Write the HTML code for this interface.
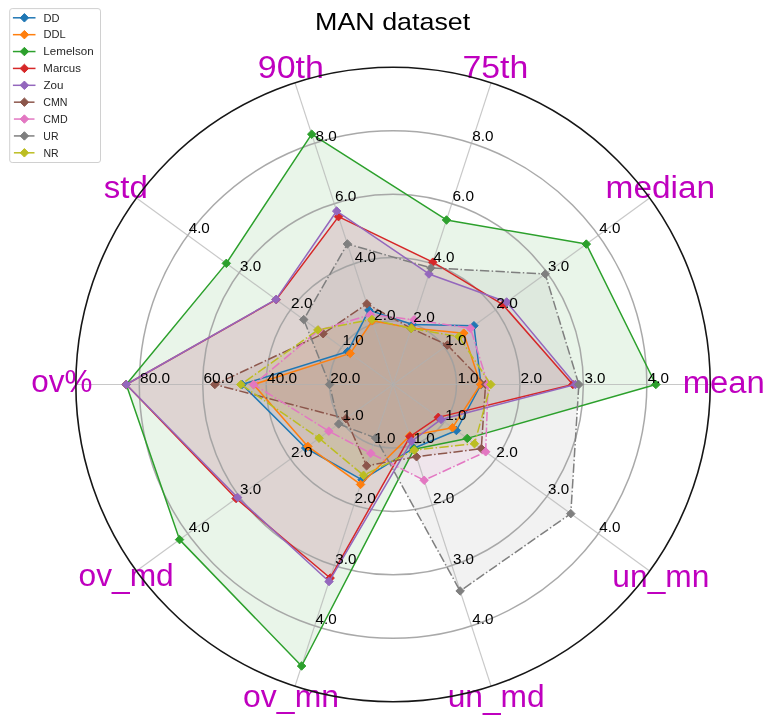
<!DOCTYPE html><html><head><meta charset="utf-8"><style>html,body{margin:0;padding:0;background:#fff}svg{display:block;will-change:transform}</style></head><body><svg width="771" height="720" viewBox="0 0 771 720">
<rect width="771" height="720" fill="#fff"/>
<polygon points="481.05,384.5 473.95,325.72 412.52,324.58 368.88,310.13 347.75,351.58 242.05,384.5 305.68,447.98 362.09,479.8 413.75,448.22 456.4,430.52" fill="#1f77b4" fill-opacity="0.1" stroke="none"/>
<polygon points="480.55,384.5 463.76,333.13 411.44,327.91 372.35,320.78 350.25,353.41 253.55,384.5 307.86,446.39 360.57,484.46 409.74,435.86 452.51,427.7" fill="#ff7f0e" fill-opacity="0.1" stroke="none"/>
<polygon points="655.85,384.5 586.32,244.08 446.51,219.97 311.72,134.18 226.31,263.36 126.25,384.5 179.55,539.62 301.58,666.01 414.06,449.17 467.24,438.4" fill="#2ca02c" fill-opacity="0.1" stroke="none"/>
<polygon points="572.85,384.5 502.91,304.68 432.79,262.19 338.51,216.64 276.23,299.62 126.25,384.5 236.1,498.53 330.17,578.04 409.98,436.62 438.27,417.36" fill="#d62728" fill-opacity="0.1" stroke="none"/>
<polygon points="575.35,384.5 506.64,301.97 428.96,273.99 336.69,211.03 275.99,299.45 126.25,384.5 237.56,497.47 329.02,581.56 411.5,441.28 441.11,419.41" fill="#9467bd" fill-opacity="0.1" stroke="none"/>
<polygon points="485.55,384.5 447.34,345.06 411.28,328.39 366.85,303.85 323.15,333.72 214.85,384.5 345.97,418.71 366.63,465.82 416.54,456.78 481.31,448.63" fill="#8c564b" fill-opacity="0.1" stroke="none"/>
<polygon points="488.05,384.5 470.47,328.25 414.09,319.73 370.34,314.6 318.62,330.42 253.55,384.5 328.81,431.17 370.71,453.26 424.17,480.27 485.68,451.8" fill="#e377c2" fill-opacity="0.1" stroke="none"/>
<polygon points="578.85,384.5 545.23,273.94 430.94,267.9 347.38,243.93 303.73,319.61 329.55,384.5 338.68,424 375.65,438.04 460.14,590.97 570.79,513.64" fill="#7f7f7f" fill-opacity="0.1" stroke="none"/>
<polygon points="490.85,384.5 458.9,336.65 411.28,328.39 371.91,319.45 317.89,329.89 240.85,384.5 319.11,438.22 363.54,475.33 414.37,450.12 474.52,443.69" fill="#bcbd22" fill-opacity="0.1" stroke="none"/>
<circle cx="393.05" cy="384.5" r="63.44" fill="none" stroke="#a0a0a0" stroke-width="1.5" stroke-opacity="0.9"/>
<circle cx="393.05" cy="384.5" r="126.88" fill="none" stroke="#a0a0a0" stroke-width="1.5" stroke-opacity="0.9"/>
<circle cx="393.05" cy="384.5" r="190.32" fill="none" stroke="#a0a0a0" stroke-width="1.5" stroke-opacity="0.9"/>
<circle cx="393.05" cy="384.5" r="253.76" fill="none" stroke="#a0a0a0" stroke-width="1.5" stroke-opacity="0.9"/>
<line x1="393.05" y1="384.5" x2="710.25" y2="384.5" stroke="#b0b0b0" stroke-width="1.2" stroke-opacity="0.7"/>
<line x1="393.05" y1="384.5" x2="649.67" y2="198.05" stroke="#b0b0b0" stroke-width="1.2" stroke-opacity="0.7"/>
<line x1="393.05" y1="384.5" x2="491.07" y2="82.82" stroke="#b0b0b0" stroke-width="1.2" stroke-opacity="0.7"/>
<line x1="393.05" y1="384.5" x2="295.03" y2="82.82" stroke="#b0b0b0" stroke-width="1.2" stroke-opacity="0.7"/>
<line x1="393.05" y1="384.5" x2="136.43" y2="198.05" stroke="#b0b0b0" stroke-width="1.2" stroke-opacity="0.7"/>
<line x1="393.05" y1="384.5" x2="75.85" y2="384.5" stroke="#b0b0b0" stroke-width="1.2" stroke-opacity="0.7"/>
<line x1="393.05" y1="384.5" x2="136.43" y2="570.95" stroke="#b0b0b0" stroke-width="1.2" stroke-opacity="0.7"/>
<line x1="393.05" y1="384.5" x2="295.03" y2="686.18" stroke="#b0b0b0" stroke-width="1.2" stroke-opacity="0.7"/>
<line x1="393.05" y1="384.5" x2="491.07" y2="686.18" stroke="#b0b0b0" stroke-width="1.2" stroke-opacity="0.7"/>
<line x1="393.05" y1="384.5" x2="649.67" y2="570.95" stroke="#b0b0b0" stroke-width="1.2" stroke-opacity="0.7"/>
<path d="M481.05,384.5 L473.95,325.72 L412.52,324.58 L368.88,310.13 L347.75,351.58 L242.05,384.5 L305.68,447.98 L362.09,479.8 L413.75,448.22 L456.4,430.52 L481.05,384.5" fill="none" stroke="#1f77b4" stroke-width="1.5" stroke-linejoin="round"/>
<path d="M481.05,380.26 L485.29,384.5 L481.05,388.74 L476.81,384.5Z" fill="#1f77b4" stroke="#1f77b4" stroke-width="1.0"/>
<path d="M473.95,321.48 L478.19,325.72 L473.95,329.96 L469.71,325.72Z" fill="#1f77b4" stroke="#1f77b4" stroke-width="1.0"/>
<path d="M412.52,320.34 L416.76,324.58 L412.52,328.82 L408.28,324.58Z" fill="#1f77b4" stroke="#1f77b4" stroke-width="1.0"/>
<path d="M368.88,305.89 L373.12,310.13 L368.88,314.37 L364.64,310.13Z" fill="#1f77b4" stroke="#1f77b4" stroke-width="1.0"/>
<path d="M347.75,347.34 L351.99,351.58 L347.75,355.82 L343.51,351.58Z" fill="#1f77b4" stroke="#1f77b4" stroke-width="1.0"/>
<path d="M242.05,380.26 L246.29,384.5 L242.05,388.74 L237.81,384.5Z" fill="#1f77b4" stroke="#1f77b4" stroke-width="1.0"/>
<path d="M305.68,443.74 L309.92,447.98 L305.68,452.22 L301.44,447.98Z" fill="#1f77b4" stroke="#1f77b4" stroke-width="1.0"/>
<path d="M362.09,475.56 L366.33,479.8 L362.09,484.04 L357.85,479.8Z" fill="#1f77b4" stroke="#1f77b4" stroke-width="1.0"/>
<path d="M413.75,443.98 L417.99,448.22 L413.75,452.46 L409.51,448.22Z" fill="#1f77b4" stroke="#1f77b4" stroke-width="1.0"/>
<path d="M456.4,426.28 L460.64,430.52 L456.4,434.76 L452.16,430.52Z" fill="#1f77b4" stroke="#1f77b4" stroke-width="1.0"/>
<path d="M480.55,384.5 L463.76,333.13 L411.44,327.91 L372.35,320.78 L350.25,353.41 L253.55,384.5 L307.86,446.39 L360.57,484.46 L409.74,435.86 L452.51,427.7 L480.55,384.5" fill="none" stroke="#ff7f0e" stroke-width="1.5" stroke-linejoin="round"/>
<path d="M480.55,380.26 L484.79,384.5 L480.55,388.74 L476.31,384.5Z" fill="#ff7f0e" stroke="#ff7f0e" stroke-width="1.0"/>
<path d="M463.76,328.89 L468,333.13 L463.76,337.37 L459.52,333.13Z" fill="#ff7f0e" stroke="#ff7f0e" stroke-width="1.0"/>
<path d="M411.44,323.67 L415.68,327.91 L411.44,332.15 L407.2,327.91Z" fill="#ff7f0e" stroke="#ff7f0e" stroke-width="1.0"/>
<path d="M372.35,316.54 L376.59,320.78 L372.35,325.02 L368.11,320.78Z" fill="#ff7f0e" stroke="#ff7f0e" stroke-width="1.0"/>
<path d="M350.25,349.17 L354.49,353.41 L350.25,357.65 L346.01,353.41Z" fill="#ff7f0e" stroke="#ff7f0e" stroke-width="1.0"/>
<path d="M253.55,380.26 L257.79,384.5 L253.55,388.74 L249.31,384.5Z" fill="#ff7f0e" stroke="#ff7f0e" stroke-width="1.0"/>
<path d="M307.86,442.15 L312.1,446.39 L307.86,450.63 L303.62,446.39Z" fill="#ff7f0e" stroke="#ff7f0e" stroke-width="1.0"/>
<path d="M360.57,480.22 L364.81,484.46 L360.57,488.7 L356.33,484.46Z" fill="#ff7f0e" stroke="#ff7f0e" stroke-width="1.0"/>
<path d="M409.74,431.62 L413.98,435.86 L409.74,440.1 L405.5,435.86Z" fill="#ff7f0e" stroke="#ff7f0e" stroke-width="1.0"/>
<path d="M452.51,423.46 L456.75,427.7 L452.51,431.94 L448.27,427.7Z" fill="#ff7f0e" stroke="#ff7f0e" stroke-width="1.0"/>
<path d="M655.85,384.5 L586.32,244.08 L446.51,219.97 L311.72,134.18 L226.31,263.36 L126.25,384.5 L179.55,539.62 L301.58,666.01 L414.06,449.17 L467.24,438.4 L655.85,384.5" fill="none" stroke="#2ca02c" stroke-width="1.5" stroke-linejoin="round"/>
<path d="M655.85,380.26 L660.09,384.5 L655.85,388.74 L651.61,384.5Z" fill="#2ca02c" stroke="#2ca02c" stroke-width="1.0"/>
<path d="M586.32,239.84 L590.56,244.08 L586.32,248.32 L582.08,244.08Z" fill="#2ca02c" stroke="#2ca02c" stroke-width="1.0"/>
<path d="M446.51,215.73 L450.75,219.97 L446.51,224.21 L442.27,219.97Z" fill="#2ca02c" stroke="#2ca02c" stroke-width="1.0"/>
<path d="M311.72,129.94 L315.96,134.18 L311.72,138.42 L307.48,134.18Z" fill="#2ca02c" stroke="#2ca02c" stroke-width="1.0"/>
<path d="M226.31,259.12 L230.55,263.36 L226.31,267.6 L222.07,263.36Z" fill="#2ca02c" stroke="#2ca02c" stroke-width="1.0"/>
<path d="M126.25,380.26 L130.49,384.5 L126.25,388.74 L122.01,384.5Z" fill="#2ca02c" stroke="#2ca02c" stroke-width="1.0"/>
<path d="M179.55,535.38 L183.79,539.62 L179.55,543.86 L175.31,539.62Z" fill="#2ca02c" stroke="#2ca02c" stroke-width="1.0"/>
<path d="M301.58,661.77 L305.82,666.01 L301.58,670.25 L297.34,666.01Z" fill="#2ca02c" stroke="#2ca02c" stroke-width="1.0"/>
<path d="M414.06,444.93 L418.3,449.17 L414.06,453.41 L409.82,449.17Z" fill="#2ca02c" stroke="#2ca02c" stroke-width="1.0"/>
<path d="M467.24,434.16 L471.48,438.4 L467.24,442.64 L463,438.4Z" fill="#2ca02c" stroke="#2ca02c" stroke-width="1.0"/>
<path d="M572.85,384.5 L502.91,304.68 L432.79,262.19 L338.51,216.64 L276.23,299.62 L126.25,384.5 L236.1,498.53 L330.17,578.04 L409.98,436.62 L438.27,417.36 L572.85,384.5" fill="none" stroke="#d62728" stroke-width="1.5" stroke-linejoin="round"/>
<path d="M572.85,380.26 L577.09,384.5 L572.85,388.74 L568.61,384.5Z" fill="#d62728" stroke="#d62728" stroke-width="1.0"/>
<path d="M502.91,300.44 L507.15,304.68 L502.91,308.92 L498.67,304.68Z" fill="#d62728" stroke="#d62728" stroke-width="1.0"/>
<path d="M432.79,257.95 L437.03,262.19 L432.79,266.43 L428.55,262.19Z" fill="#d62728" stroke="#d62728" stroke-width="1.0"/>
<path d="M338.51,212.4 L342.75,216.64 L338.51,220.88 L334.27,216.64Z" fill="#d62728" stroke="#d62728" stroke-width="1.0"/>
<path d="M276.23,295.38 L280.47,299.62 L276.23,303.86 L271.99,299.62Z" fill="#d62728" stroke="#d62728" stroke-width="1.0"/>
<path d="M126.25,380.26 L130.49,384.5 L126.25,388.74 L122.01,384.5Z" fill="#d62728" stroke="#d62728" stroke-width="1.0"/>
<path d="M236.1,494.29 L240.34,498.53 L236.1,502.77 L231.86,498.53Z" fill="#d62728" stroke="#d62728" stroke-width="1.0"/>
<path d="M330.17,573.8 L334.41,578.04 L330.17,582.28 L325.93,578.04Z" fill="#d62728" stroke="#d62728" stroke-width="1.0"/>
<path d="M409.98,432.38 L414.22,436.62 L409.98,440.86 L405.74,436.62Z" fill="#d62728" stroke="#d62728" stroke-width="1.0"/>
<path d="M438.27,413.12 L442.51,417.36 L438.27,421.6 L434.03,417.36Z" fill="#d62728" stroke="#d62728" stroke-width="1.0"/>
<path d="M575.35,384.5 L506.64,301.97 L428.96,273.99 L336.69,211.03 L275.99,299.45 L126.25,384.5 L237.56,497.47 L329.02,581.56 L411.5,441.28 L441.11,419.41 L575.35,384.5" fill="none" stroke="#9467bd" stroke-width="1.5" stroke-linejoin="round"/>
<path d="M575.35,380.26 L579.59,384.5 L575.35,388.74 L571.11,384.5Z" fill="#9467bd" stroke="#9467bd" stroke-width="1.0"/>
<path d="M506.64,297.73 L510.88,301.97 L506.64,306.21 L502.4,301.97Z" fill="#9467bd" stroke="#9467bd" stroke-width="1.0"/>
<path d="M428.96,269.75 L433.2,273.99 L428.96,278.23 L424.72,273.99Z" fill="#9467bd" stroke="#9467bd" stroke-width="1.0"/>
<path d="M336.69,206.79 L340.93,211.03 L336.69,215.27 L332.45,211.03Z" fill="#9467bd" stroke="#9467bd" stroke-width="1.0"/>
<path d="M275.99,295.21 L280.23,299.45 L275.99,303.69 L271.75,299.45Z" fill="#9467bd" stroke="#9467bd" stroke-width="1.0"/>
<path d="M126.25,380.26 L130.49,384.5 L126.25,388.74 L122.01,384.5Z" fill="#9467bd" stroke="#9467bd" stroke-width="1.0"/>
<path d="M237.56,493.23 L241.8,497.47 L237.56,501.71 L233.32,497.47Z" fill="#9467bd" stroke="#9467bd" stroke-width="1.0"/>
<path d="M329.02,577.32 L333.26,581.56 L329.02,585.8 L324.78,581.56Z" fill="#9467bd" stroke="#9467bd" stroke-width="1.0"/>
<path d="M411.5,437.04 L415.74,441.28 L411.5,445.52 L407.26,441.28Z" fill="#9467bd" stroke="#9467bd" stroke-width="1.0"/>
<path d="M441.11,415.17 L445.35,419.41 L441.11,423.65 L436.87,419.41Z" fill="#9467bd" stroke="#9467bd" stroke-width="1.0"/>
<path d="M485.55,384.5 L447.34,345.06 L411.28,328.39 L366.85,303.85 L323.15,333.72 L214.85,384.5 L345.97,418.71 L366.63,465.82 L416.54,456.78 L481.31,448.63 L485.55,384.5" fill="none" stroke="#8c564b" stroke-width="1.5" stroke-dasharray="9.4 2.35 1.5 2.35" stroke-linejoin="round"/>
<path d="M485.55,380.26 L489.79,384.5 L485.55,388.74 L481.31,384.5Z" fill="#8c564b" stroke="#8c564b" stroke-width="1.0"/>
<path d="M447.34,340.82 L451.58,345.06 L447.34,349.3 L443.1,345.06Z" fill="#8c564b" stroke="#8c564b" stroke-width="1.0"/>
<path d="M411.28,324.15 L415.52,328.39 L411.28,332.63 L407.04,328.39Z" fill="#8c564b" stroke="#8c564b" stroke-width="1.0"/>
<path d="M366.85,299.61 L371.09,303.85 L366.85,308.09 L362.61,303.85Z" fill="#8c564b" stroke="#8c564b" stroke-width="1.0"/>
<path d="M323.15,329.48 L327.39,333.72 L323.15,337.96 L318.91,333.72Z" fill="#8c564b" stroke="#8c564b" stroke-width="1.0"/>
<path d="M214.85,380.26 L219.09,384.5 L214.85,388.74 L210.61,384.5Z" fill="#8c564b" stroke="#8c564b" stroke-width="1.0"/>
<path d="M345.97,414.47 L350.21,418.71 L345.97,422.95 L341.73,418.71Z" fill="#8c564b" stroke="#8c564b" stroke-width="1.0"/>
<path d="M366.63,461.58 L370.87,465.82 L366.63,470.06 L362.39,465.82Z" fill="#8c564b" stroke="#8c564b" stroke-width="1.0"/>
<path d="M416.54,452.54 L420.78,456.78 L416.54,461.02 L412.3,456.78Z" fill="#8c564b" stroke="#8c564b" stroke-width="1.0"/>
<path d="M481.31,444.39 L485.55,448.63 L481.31,452.87 L477.07,448.63Z" fill="#8c564b" stroke="#8c564b" stroke-width="1.0"/>
<path d="M488.05,384.5 L470.47,328.25 L414.09,319.73 L370.34,314.6 L318.62,330.42 L253.55,384.5 L328.81,431.17 L370.71,453.26 L424.17,480.27 L485.68,451.8 L488.05,384.5" fill="none" stroke="#e377c2" stroke-width="1.5" stroke-dasharray="9.4 2.35 1.5 2.35" stroke-linejoin="round"/>
<path d="M488.05,380.26 L492.29,384.5 L488.05,388.74 L483.81,384.5Z" fill="#e377c2" stroke="#e377c2" stroke-width="1.0"/>
<path d="M470.47,324.01 L474.71,328.25 L470.47,332.49 L466.23,328.25Z" fill="#e377c2" stroke="#e377c2" stroke-width="1.0"/>
<path d="M414.09,315.49 L418.33,319.73 L414.09,323.97 L409.85,319.73Z" fill="#e377c2" stroke="#e377c2" stroke-width="1.0"/>
<path d="M370.34,310.36 L374.58,314.6 L370.34,318.84 L366.1,314.6Z" fill="#e377c2" stroke="#e377c2" stroke-width="1.0"/>
<path d="M318.62,326.18 L322.86,330.42 L318.62,334.66 L314.38,330.42Z" fill="#e377c2" stroke="#e377c2" stroke-width="1.0"/>
<path d="M253.55,380.26 L257.79,384.5 L253.55,388.74 L249.31,384.5Z" fill="#e377c2" stroke="#e377c2" stroke-width="1.0"/>
<path d="M328.81,426.93 L333.05,431.17 L328.81,435.41 L324.57,431.17Z" fill="#e377c2" stroke="#e377c2" stroke-width="1.0"/>
<path d="M370.71,449.02 L374.95,453.26 L370.71,457.5 L366.47,453.26Z" fill="#e377c2" stroke="#e377c2" stroke-width="1.0"/>
<path d="M424.17,476.03 L428.41,480.27 L424.17,484.51 L419.93,480.27Z" fill="#e377c2" stroke="#e377c2" stroke-width="1.0"/>
<path d="M485.68,447.56 L489.92,451.8 L485.68,456.04 L481.44,451.8Z" fill="#e377c2" stroke="#e377c2" stroke-width="1.0"/>
<path d="M578.85,384.5 L545.23,273.94 L430.94,267.9 L347.38,243.93 L303.73,319.61 L329.55,384.5 L338.68,424 L375.65,438.04 L460.14,590.97 L570.79,513.64 L578.85,384.5" fill="none" stroke="#7f7f7f" stroke-width="1.5" stroke-dasharray="9.4 2.35 1.5 2.35" stroke-linejoin="round"/>
<path d="M578.85,380.26 L583.09,384.5 L578.85,388.74 L574.61,384.5Z" fill="#7f7f7f" stroke="#7f7f7f" stroke-width="1.0"/>
<path d="M545.23,269.7 L549.47,273.94 L545.23,278.18 L540.99,273.94Z" fill="#7f7f7f" stroke="#7f7f7f" stroke-width="1.0"/>
<path d="M430.94,263.66 L435.18,267.9 L430.94,272.14 L426.7,267.9Z" fill="#7f7f7f" stroke="#7f7f7f" stroke-width="1.0"/>
<path d="M347.38,239.69 L351.62,243.93 L347.38,248.17 L343.14,243.93Z" fill="#7f7f7f" stroke="#7f7f7f" stroke-width="1.0"/>
<path d="M303.73,315.37 L307.97,319.61 L303.73,323.85 L299.49,319.61Z" fill="#7f7f7f" stroke="#7f7f7f" stroke-width="1.0"/>
<path d="M329.55,380.26 L333.79,384.5 L329.55,388.74 L325.31,384.5Z" fill="#7f7f7f" stroke="#7f7f7f" stroke-width="1.0"/>
<path d="M338.68,419.76 L342.92,424 L338.68,428.24 L334.44,424Z" fill="#7f7f7f" stroke="#7f7f7f" stroke-width="1.0"/>
<path d="M375.65,433.8 L379.89,438.04 L375.65,442.28 L371.41,438.04Z" fill="#7f7f7f" stroke="#7f7f7f" stroke-width="1.0"/>
<path d="M460.14,586.73 L464.38,590.97 L460.14,595.21 L455.9,590.97Z" fill="#7f7f7f" stroke="#7f7f7f" stroke-width="1.0"/>
<path d="M570.79,509.4 L575.03,513.64 L570.79,517.88 L566.55,513.64Z" fill="#7f7f7f" stroke="#7f7f7f" stroke-width="1.0"/>
<path d="M490.85,384.5 L458.9,336.65 L411.28,328.39 L371.91,319.45 L317.89,329.89 L240.85,384.5 L319.11,438.22 L363.54,475.33 L414.37,450.12 L474.52,443.69 L490.85,384.5" fill="none" stroke="#bcbd22" stroke-width="1.5" stroke-dasharray="9.4 2.35 1.5 2.35" stroke-linejoin="round"/>
<path d="M490.85,380.26 L495.09,384.5 L490.85,388.74 L486.61,384.5Z" fill="#bcbd22" stroke="#bcbd22" stroke-width="1.0"/>
<path d="M458.9,332.41 L463.14,336.65 L458.9,340.89 L454.66,336.65Z" fill="#bcbd22" stroke="#bcbd22" stroke-width="1.0"/>
<path d="M411.28,324.15 L415.52,328.39 L411.28,332.63 L407.04,328.39Z" fill="#bcbd22" stroke="#bcbd22" stroke-width="1.0"/>
<path d="M371.91,315.21 L376.15,319.45 L371.91,323.69 L367.67,319.45Z" fill="#bcbd22" stroke="#bcbd22" stroke-width="1.0"/>
<path d="M317.89,325.65 L322.13,329.89 L317.89,334.13 L313.65,329.89Z" fill="#bcbd22" stroke="#bcbd22" stroke-width="1.0"/>
<path d="M240.85,380.26 L245.09,384.5 L240.85,388.74 L236.61,384.5Z" fill="#bcbd22" stroke="#bcbd22" stroke-width="1.0"/>
<path d="M319.11,433.98 L323.35,438.22 L319.11,442.46 L314.87,438.22Z" fill="#bcbd22" stroke="#bcbd22" stroke-width="1.0"/>
<path d="M363.54,471.09 L367.78,475.33 L363.54,479.57 L359.3,475.33Z" fill="#bcbd22" stroke="#bcbd22" stroke-width="1.0"/>
<path d="M414.37,445.88 L418.61,450.12 L414.37,454.36 L410.13,450.12Z" fill="#bcbd22" stroke="#bcbd22" stroke-width="1.0"/>
<path d="M474.52,439.45 L478.76,443.69 L474.52,447.93 L470.28,443.69Z" fill="#bcbd22" stroke="#bcbd22" stroke-width="1.0"/>
<g font-family="Liberation Sans, sans-serif">
<text x="457.4" y="382.5" font-size="14" fill="#000" textLength="21.2" lengthAdjust="spacingAndGlyphs">1.0</text>
<text x="520.6" y="382.5" font-size="14" fill="#000" textLength="21.44" lengthAdjust="spacingAndGlyphs">2.0</text>
<text x="584.43" y="382.5" font-size="14" fill="#000" textLength="21.05" lengthAdjust="spacingAndGlyphs">3.0</text>
<text x="647.74" y="382.5" font-size="14" fill="#000" textLength="21.18" lengthAdjust="spacingAndGlyphs">4.0</text>
<text x="445.29" y="345.21" font-size="14" fill="#000" textLength="21.2" lengthAdjust="spacingAndGlyphs">1.0</text>
<text x="496.37" y="307.92" font-size="14" fill="#000" textLength="21.44" lengthAdjust="spacingAndGlyphs">2.0</text>
<text x="548.08" y="270.63" font-size="14" fill="#000" textLength="21.05" lengthAdjust="spacingAndGlyphs">3.0</text>
<text x="599.27" y="233.34" font-size="14" fill="#000" textLength="21.18" lengthAdjust="spacingAndGlyphs">4.0</text>
<text x="413.33" y="322.16" font-size="14" fill="#000" textLength="21.44" lengthAdjust="spacingAndGlyphs">2.0</text>
<text x="433.19" y="261.83" font-size="14" fill="#000" textLength="21.18" lengthAdjust="spacingAndGlyphs">4.0</text>
<text x="452.54" y="201.49" font-size="14" fill="#000" textLength="21.44" lengthAdjust="spacingAndGlyphs">6.0</text>
<text x="472.32" y="141.16" font-size="14" fill="#000" textLength="21.26" lengthAdjust="spacingAndGlyphs">8.0</text>
<text x="374.12" y="319.96" font-size="14" fill="#000" textLength="21.44" lengthAdjust="spacingAndGlyphs">2.0</text>
<text x="354.77" y="261.83" font-size="14" fill="#000" textLength="21.18" lengthAdjust="spacingAndGlyphs">4.0</text>
<text x="334.91" y="201.49" font-size="14" fill="#000" textLength="21.44" lengthAdjust="spacingAndGlyphs">6.0</text>
<text x="315.49" y="141.16" font-size="14" fill="#000" textLength="21.26" lengthAdjust="spacingAndGlyphs">8.0</text>
<text x="342.64" y="345.21" font-size="14" fill="#000" textLength="21.2" lengthAdjust="spacingAndGlyphs">1.0</text>
<text x="291.08" y="307.92" font-size="14" fill="#000" textLength="21.44" lengthAdjust="spacingAndGlyphs">2.0</text>
<text x="240.14" y="270.63" font-size="14" fill="#000" textLength="21.05" lengthAdjust="spacingAndGlyphs">3.0</text>
<text x="188.68" y="233.34" font-size="14" fill="#000" textLength="21.18" lengthAdjust="spacingAndGlyphs">4.0</text>
<text x="330.28" y="382.5" font-size="14" fill="#000" textLength="30.18" lengthAdjust="spacingAndGlyphs">20.0</text>
<text x="267.1" y="382.5" font-size="14" fill="#000" textLength="29.92" lengthAdjust="spacingAndGlyphs">40.0</text>
<text x="203.4" y="382.5" font-size="14" fill="#000" textLength="30.18" lengthAdjust="spacingAndGlyphs">60.0</text>
<text x="140.14" y="382.5" font-size="14" fill="#000" textLength="30" lengthAdjust="spacingAndGlyphs">80.0</text>
<text x="342.64" y="419.79" font-size="14" fill="#000" textLength="21.2" lengthAdjust="spacingAndGlyphs">1.0</text>
<text x="291.08" y="457.08" font-size="14" fill="#000" textLength="21.44" lengthAdjust="spacingAndGlyphs">2.0</text>
<text x="240.14" y="494.37" font-size="14" fill="#000" textLength="21.05" lengthAdjust="spacingAndGlyphs">3.0</text>
<text x="188.68" y="531.66" font-size="14" fill="#000" textLength="21.18" lengthAdjust="spacingAndGlyphs">4.0</text>
<text x="374.36" y="442.84" font-size="14" fill="#000" textLength="21.2" lengthAdjust="spacingAndGlyphs">1.0</text>
<text x="354.52" y="503.17" font-size="14" fill="#000" textLength="21.44" lengthAdjust="spacingAndGlyphs">2.0</text>
<text x="335.3" y="563.51" font-size="14" fill="#000" textLength="21.05" lengthAdjust="spacingAndGlyphs">3.0</text>
<text x="315.56" y="623.84" font-size="14" fill="#000" textLength="21.18" lengthAdjust="spacingAndGlyphs">4.0</text>
<text x="413.57" y="442.84" font-size="14" fill="#000" textLength="21.2" lengthAdjust="spacingAndGlyphs">1.0</text>
<text x="432.93" y="503.17" font-size="14" fill="#000" textLength="21.44" lengthAdjust="spacingAndGlyphs">2.0</text>
<text x="452.92" y="563.51" font-size="14" fill="#000" textLength="21.05" lengthAdjust="spacingAndGlyphs">3.0</text>
<text x="472.39" y="623.84" font-size="14" fill="#000" textLength="21.18" lengthAdjust="spacingAndGlyphs">4.0</text>
<text x="445.29" y="419.79" font-size="14" fill="#000" textLength="21.2" lengthAdjust="spacingAndGlyphs">1.0</text>
<text x="496.37" y="457.08" font-size="14" fill="#000" textLength="21.44" lengthAdjust="spacingAndGlyphs">2.0</text>
<text x="548.08" y="494.37" font-size="14" fill="#000" textLength="21.05" lengthAdjust="spacingAndGlyphs">3.0</text>
<text x="599.27" y="531.66" font-size="14" fill="#000" textLength="21.18" lengthAdjust="spacingAndGlyphs">4.0</text>
<text x="682.68" y="392.5" font-size="31" fill="#bf00bf" textLength="82.19" lengthAdjust="spacingAndGlyphs">mean</text>
<text x="605.54" y="198" font-size="31" fill="#bf00bf" textLength="109.65" lengthAdjust="spacingAndGlyphs">median</text>
<text x="462.46" y="77.6" font-size="31" fill="#bf00bf" textLength="65.82" lengthAdjust="spacingAndGlyphs">75th</text>
<text x="257.76" y="77.9" font-size="31" fill="#bf00bf" textLength="66.14" lengthAdjust="spacingAndGlyphs">90th</text>
<text x="103.84" y="197.9" font-size="31" fill="#bf00bf" textLength="44.01" lengthAdjust="spacingAndGlyphs">std</text>
<text x="31.33" y="392.2" font-size="31" fill="#bf00bf" textLength="61.25" lengthAdjust="spacingAndGlyphs">ov%</text>
<text x="78.52" y="586.3" font-size="31" fill="#bf00bf" textLength="95.28" lengthAdjust="spacingAndGlyphs">ov<tspan dy="1.5">_</tspan><tspan dy="-1.5">md</tspan></text>
<text x="243.11" y="706.5" font-size="31" fill="#bf00bf" textLength="95.9" lengthAdjust="spacingAndGlyphs">ov<tspan dy="1.5">_</tspan><tspan dy="-1.5">mn</tspan></text>
<text x="447.65" y="707.2" font-size="31" fill="#bf00bf" textLength="97.04" lengthAdjust="spacingAndGlyphs">un<tspan dy="1.5">_</tspan><tspan dy="-1.5">md</tspan></text>
<text x="612.35" y="586.5" font-size="31" fill="#bf00bf" textLength="97.04" lengthAdjust="spacingAndGlyphs">un<tspan dy="1.5">_</tspan><tspan dy="-1.5">mn</tspan></text>
<text x="315.03" y="29.6" font-size="24.8" fill="#000" textLength="155.27" lengthAdjust="spacingAndGlyphs">MAN dataset</text>
</g>
<circle cx="393.05" cy="384.5" r="317.2" fill="none" stroke="#161616" stroke-width="1.6"/>
<rect x="9.7" y="8.6" width="90.8" height="153.9" rx="2.5" fill="#fff" fill-opacity="0.8" stroke="#d0d0d0" stroke-width="1"/>
<g font-family="Liberation Sans, sans-serif">
<line x1="12.9" y1="17.8" x2="35.5" y2="17.8" stroke="#1f77b4" stroke-width="1.5"/>
<path d="M24.4,13.56 L28.64,17.8 L24.4,22.04 L20.16,17.8Z" fill="#1f77b4" stroke="#1f77b4" stroke-width="1.0"/>
<text x="43.4" y="21.6" font-size="10.4" fill="#262626" textLength="16.05" lengthAdjust="spacingAndGlyphs">DD</text>
<line x1="12.9" y1="34.67" x2="35.5" y2="34.67" stroke="#ff7f0e" stroke-width="1.5"/>
<path d="M24.4,30.43 L28.64,34.67 L24.4,38.91 L20.16,34.67Z" fill="#ff7f0e" stroke="#ff7f0e" stroke-width="1.0"/>
<text x="43.4" y="38.47" font-size="10.4" fill="#262626" textLength="22.22" lengthAdjust="spacingAndGlyphs">DDL</text>
<line x1="12.9" y1="51.55" x2="35.5" y2="51.55" stroke="#2ca02c" stroke-width="1.5"/>
<path d="M24.4,47.31 L28.64,51.55 L24.4,55.79 L20.16,51.55Z" fill="#2ca02c" stroke="#2ca02c" stroke-width="1.0"/>
<text x="43.36" y="55.35" font-size="10.4" fill="#262626" textLength="50.26" lengthAdjust="spacingAndGlyphs">Lemelson</text>
<line x1="12.9" y1="68.42" x2="35.5" y2="68.42" stroke="#d62728" stroke-width="1.5"/>
<path d="M24.4,64.19 L28.64,68.42 L24.4,72.66 L20.16,68.42Z" fill="#d62728" stroke="#d62728" stroke-width="1.0"/>
<text x="43.38" y="72.22" font-size="10.4" fill="#262626" textLength="37.49" lengthAdjust="spacingAndGlyphs">Marcus</text>
<line x1="12.9" y1="85.3" x2="35.5" y2="85.3" stroke="#9467bd" stroke-width="1.5"/>
<path d="M24.4,81.06 L28.64,85.3 L24.4,89.54 L20.16,85.3Z" fill="#9467bd" stroke="#9467bd" stroke-width="1.0"/>
<text x="43.42" y="89.1" font-size="10.4" fill="#262626" textLength="20.01" lengthAdjust="spacingAndGlyphs">Zou</text>
<line x1="13.9" y1="102.17" x2="34.5" y2="102.17" stroke="#8c564b" stroke-width="1.5"/>
<path d="M24.4,97.94 L28.64,102.17 L24.4,106.41 L20.16,102.17Z" fill="#8c564b" stroke="#8c564b" stroke-width="1.0"/>
<text x="43.29" y="105.97" font-size="10.4" fill="#262626" textLength="24.26" lengthAdjust="spacingAndGlyphs">CMN</text>
<line x1="13.9" y1="119.05" x2="34.5" y2="119.05" stroke="#e377c2" stroke-width="1.5"/>
<path d="M24.4,114.81 L28.64,119.05 L24.4,123.29 L20.16,119.05Z" fill="#e377c2" stroke="#e377c2" stroke-width="1.0"/>
<text x="43.29" y="122.85" font-size="10.4" fill="#262626" textLength="24.35" lengthAdjust="spacingAndGlyphs">CMD</text>
<line x1="13.9" y1="135.93" x2="34.5" y2="135.93" stroke="#7f7f7f" stroke-width="1.5"/>
<path d="M24.4,131.69 L28.64,135.93 L24.4,140.17 L20.16,135.93Z" fill="#7f7f7f" stroke="#7f7f7f" stroke-width="1.0"/>
<text x="43.34" y="139.73" font-size="10.4" fill="#262626" textLength="15.18" lengthAdjust="spacingAndGlyphs">UR</text>
<line x1="13.9" y1="152.8" x2="34.5" y2="152.8" stroke="#bcbd22" stroke-width="1.5"/>
<path d="M24.4,148.56 L28.64,152.8 L24.4,157.04 L20.16,152.8Z" fill="#bcbd22" stroke="#bcbd22" stroke-width="1.0"/>
<text x="43.44" y="156.6" font-size="10.4" fill="#262626" textLength="15.18" lengthAdjust="spacingAndGlyphs">NR</text>
</g>
</svg></body></html>
